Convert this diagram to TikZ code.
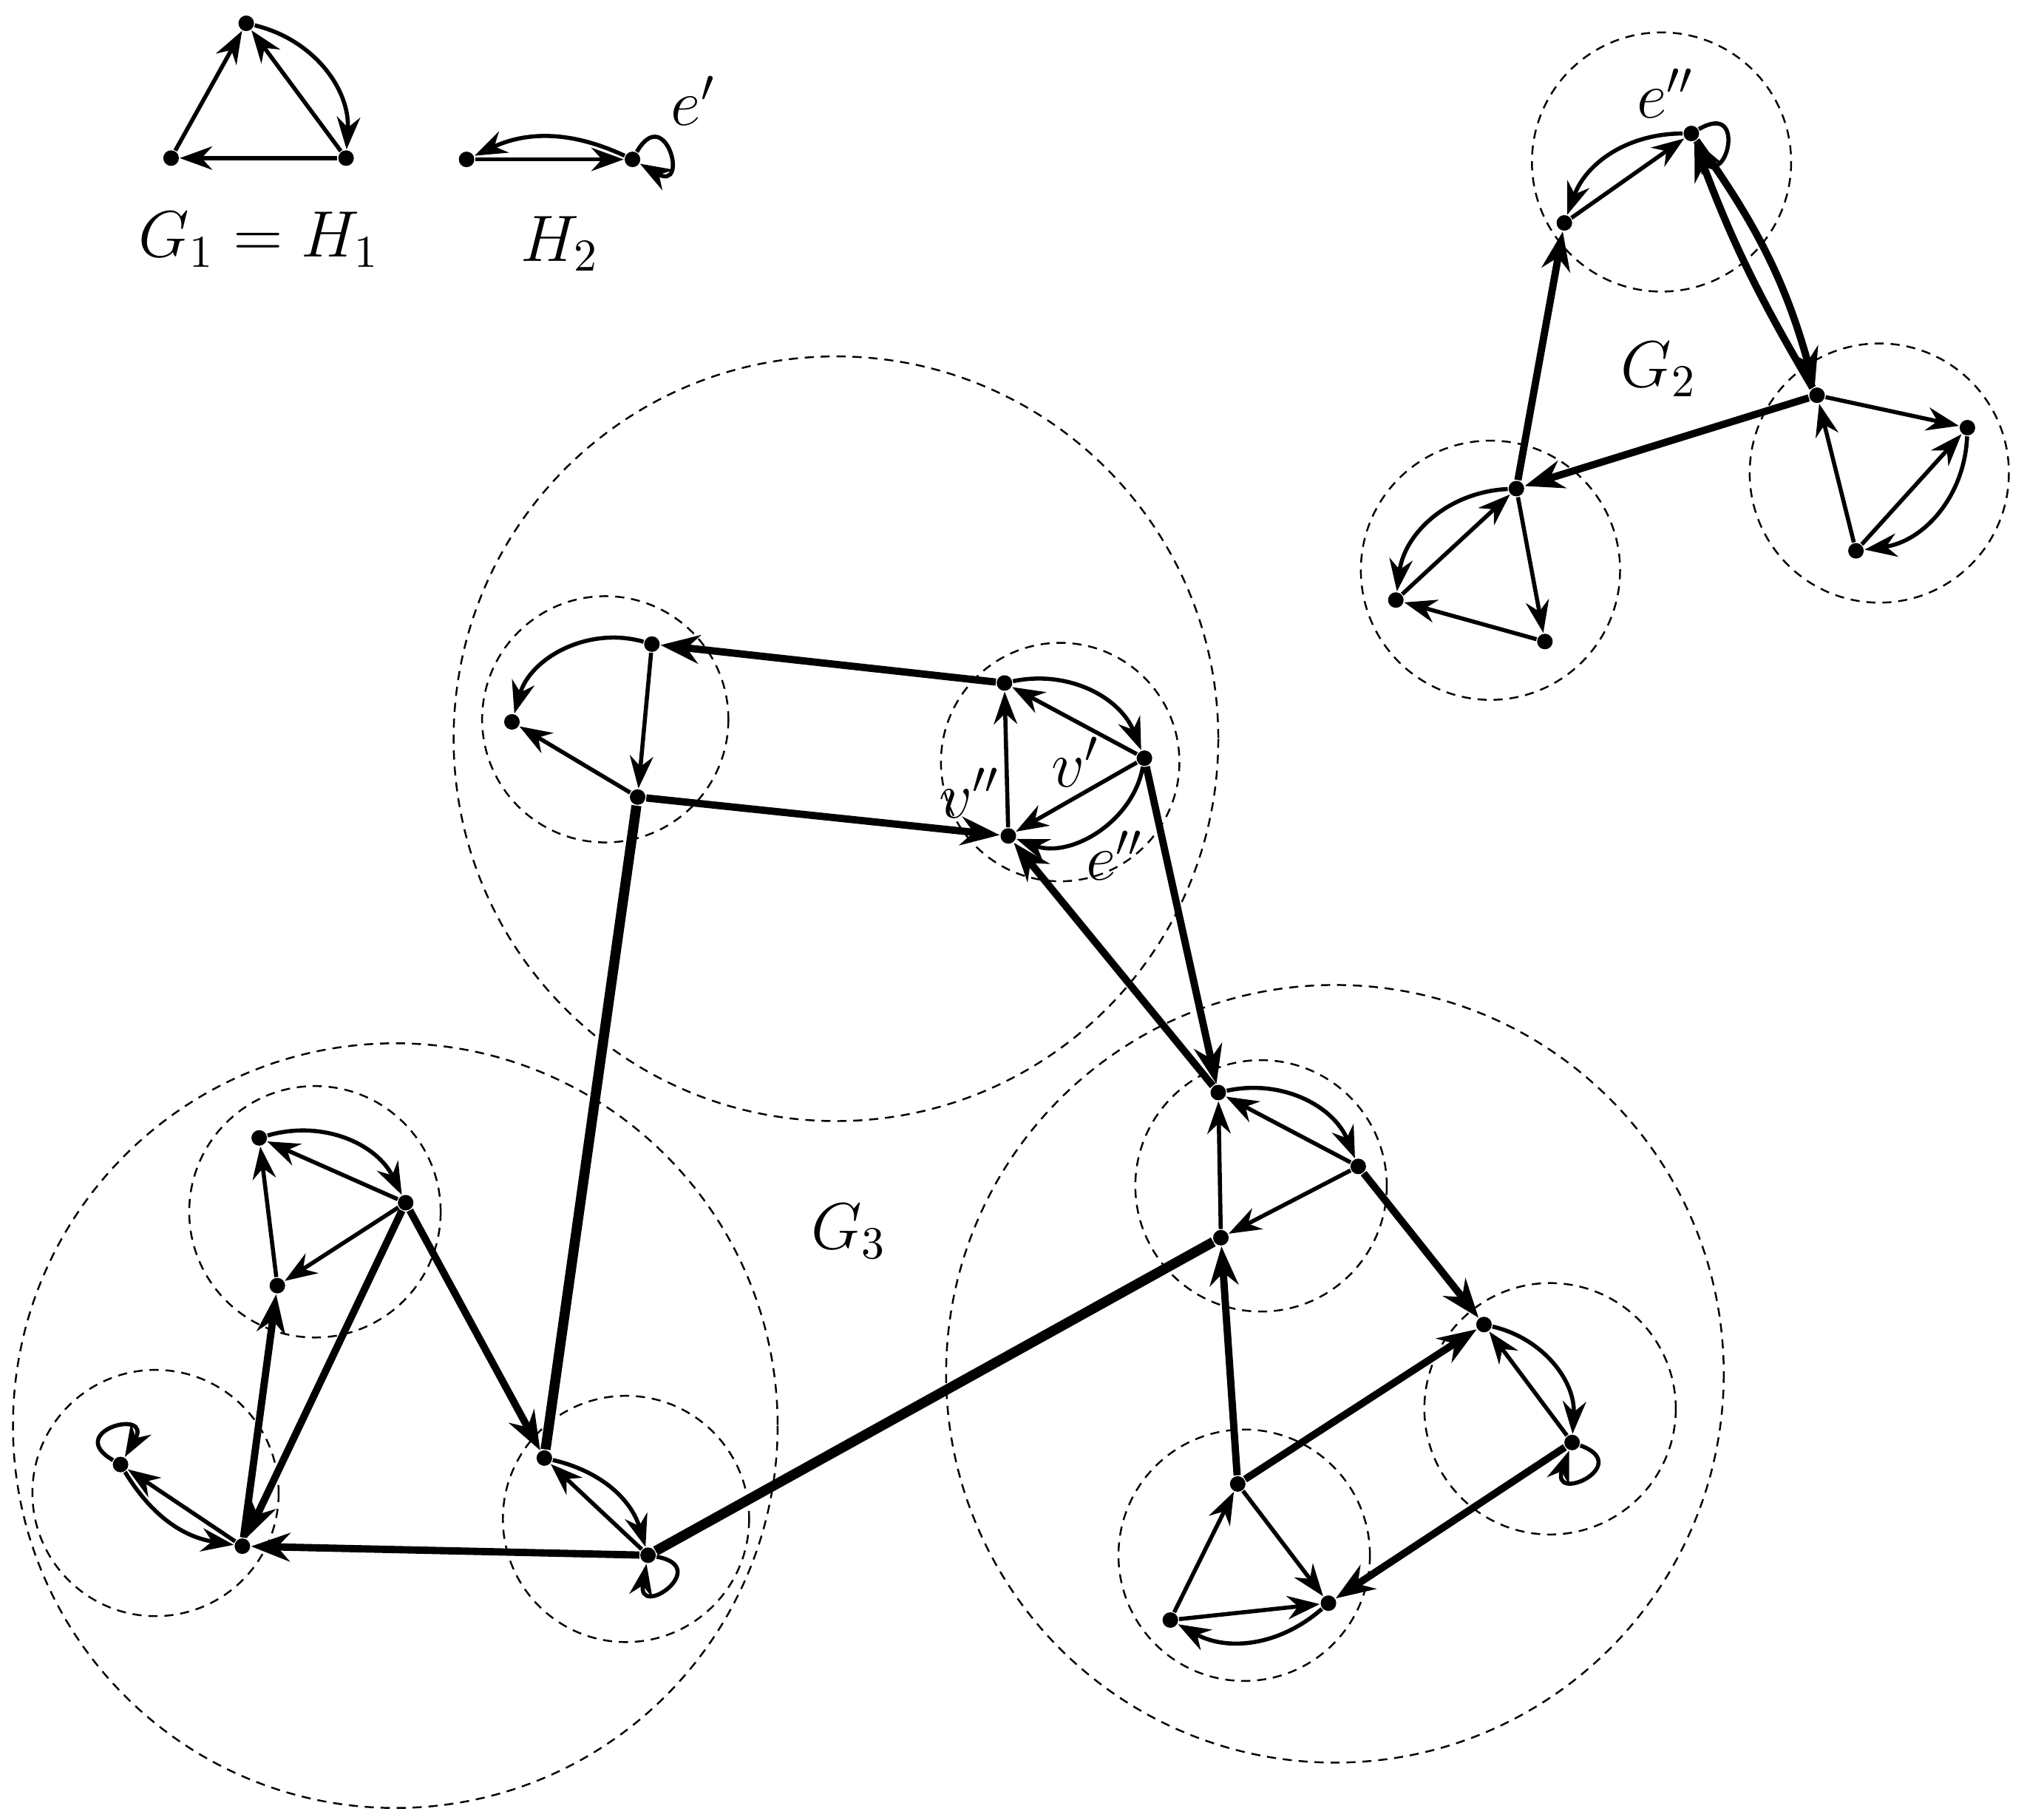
\documentclass[tikz,border=0pt]{standalone}
\usetikzlibrary{arrows.meta}
\begin{document}
\begin{tikzpicture}[x=0.01cm,y=-0.01cm,
 vtx/.style={circle,fill=black,inner sep=0pt,minimum size=0.12cm},
 thin/.style={line width=0.9pt,-{Stealth[length=0.25cm,width=0.18cm]}},
 thk/.style={line width=1.6pt,-{Stealth[length=0.3cm,width=0.22cm]}},
 thkk/.style={line width=2.2pt},
 cl/.style={dashed,line width=0.4pt,dash pattern=on 2pt off 1.5pt},
 lbl/.style={font=\Large}]
\useasboundingbox (0,0) rectangle (1564,1404);
% G1
\node[vtx] (a) at (190,18) {}; \node[vtx] (b) at (132,122) {}; \node[vtx] (c) at (267,122) {};
\draw[thin] (b)--(a); \draw[thin] (c)--(b); \draw[thin] (c)--(a); \draw[thin] (a) to[bend left=40] (c);
\node[lbl] (g1) at (200,185) {$G_1=H_1$};
% H2
\node[vtx] (p) at (360,123) {}; \node[vtx] (q) at (488,123) {};
\draw[thin] (p)--(q); \draw[thin] (q) to[bend right=25] (p);
\draw[thin] (q) to[out=60,in=-30,looseness=12] (q);
\node[lbl] (ep) at (535,78) {$e'$};
\node[lbl] (h2) at (432,188) {$H_2$};
% G2
\foreach \c/\r in {{(1282,125)}/100,{(1450,365)}/100,{(1150,440)}/100} \draw[cl] \c circle (\r);
\node[vtx] (t) at (1305,103) {}; \node[vtx] (s) at (1207,172) {};
\node[vtx] (u) at (1402,305) {}; \node[vtx] (v) at (1518,330) {}; \node[vtx] (w) at (1432,425) {};
\node[vtx] (x) at (1170,377) {}; \node[vtx] (y) at (1077,463) {}; \node[vtx] (z) at (1192,495) {};
\draw[thin] (t) to[out=30,in=-60,looseness=12] (t);
\node[lbl] (e2) at (1285,72) {$e''$};
\draw[thin] (t) to[bend right=35] (s); \draw[thin] (s)--(t);
\draw[thin] (u)--(v); \draw[thin] (w)--(u); \draw[thin] (v) to[bend left=40] (w); \draw[thin] (w)--(v);
\draw[thin] (x) to[bend right=40] (y); \draw[thin] (z)--(y); \draw[thin] (x)--(z); \draw[thin] (y)--(x);
\draw[thk] (x)--(s); \draw[thk] (t) to[bend left=10] (u); \draw[thk] (u) to[bend left=5] (t); \draw[thk] (u)--(x);
\node[lbl] (lg2) at (1280,285) {$G_2$};
% G3 circles
\foreach \c/\r in {{(645,570)}/295,{(305,1100)}/295,{(1030,1060)}/300,{(467,555)}/95,{(818,588)}/92,{(243,935)}/97,{(120,1152)}/95,{(483,1172)}/95,{(973,915)}/97,{(1196,1087)}/97,{(960,1200)}/97} \draw[cl] \c circle (\r);
\node[vtx] (A) at (503,497) {}; \node[vtx] (B) at (395,557) {}; \node[vtx] (C) at (492,615) {};
\node[vtx] (D) at (775,527) {}; \node[vtx] (E) at (883,585) {}; \node[vtx] (F) at (778,645) {};
\node[vtx] (G) at (200,878) {}; \node[vtx] (H) at (313,928) {}; \node[vtx] (I) at (214,992) {};
\node[vtx] (J) at (93,1130) {}; \node[vtx] (K) at (187,1193) {};
\node[vtx] (L) at (420,1125) {}; \node[vtx] (M) at (500,1200) {};
\node[vtx] (O) at (940,843) {}; \node[vtx] (P) at (1048,900) {}; \node[vtx] (N) at (942,955) {};
\node[vtx] (Q) at (1145,1022) {}; \node[vtx] (R) at (1213,1113) {};
\node[vtx] (S) at (955,1145) {}; \node[vtx] (T) at (903,1250) {}; \node[vtx] (U) at (1025,1237) {};
% inner
\draw[thin] (A) to[bend right=45] (B); \draw[thin] (A)--(C); \draw[thin] (C)--(B);
\draw[thin] (D) to[bend left=40] (E); \draw[thin] (E)--(D); \draw[thin] (F)--(D); \draw[thin] (E)--(F); \draw[thin] (E) to[bend left=50] (F);
\node[lbl] (v2) at (748,612) {$v''$}; \node[lbl] (v1) at (830,588) {$v'$}; \node[lbl] (e3) at (860,660) {$e''$};
\draw[thin] (G) to[bend left=40] (H); \draw[thin] (H)--(G); \draw[thin] (I)--(G); \draw[thin] (H)--(I);
\draw[thin] (J) to[out=150,in=60,looseness=12] (J); \draw[thin] (J) to[bend right=25] (K); \draw[thin] (K)--(J);
\draw[thin] (L) to[bend left=30] (M); \draw[thin] (M)--(L); \draw[thin] (M) to[out=-10,in=-100,looseness=12] (M);
\draw[thin] (O) to[bend left=40] (P); \draw[thin] (P)--(O); \draw[thin] (N)--(O); \draw[thin] (P)--(N);
\draw[thin] (Q) to[bend left=40] (R); \draw[thin] (R)--(Q); \draw[thin] (R) to[out=-20,in=-110,looseness=12] (R);
\draw[thin] (T)--(S); \draw[thin] (S)--(U); \draw[thin] (T)--(U); \draw[thin] (U) to[bend left=35] (T);
% thick
\draw[thk] (D)--(A); \draw[thk] (C)--(F);
\draw[thk] (K)--(I); \draw[thk] (H)--(K); \draw[thk] (H)--(L); \draw[thk] (M)--(K);
\draw[thkk] (C)--(L); \draw[thkk] (M)--(N);
\draw[thk] (E)--(O); \draw[thk] (O)--(F); \draw[thk] (P)--(Q); \draw[thk] (S)--(N); \draw[thk] (S)--(Q); \draw[thk] (R)--(U);
\node[lbl] (lg3) at (655,950) {$G_3$};
\end{tikzpicture}
\end{document}
